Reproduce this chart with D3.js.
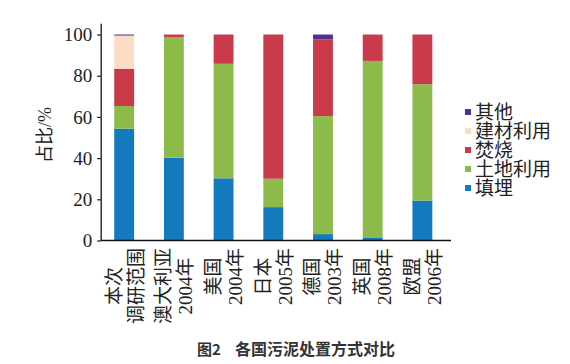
<!DOCTYPE html>
<html><head><meta charset="utf-8">
<script src="https://cdn.jsdelivr.net/npm/d3@7"></script>
<style>
html,body{margin:0;padding:0;background:#fff;}
svg{display:block;}
</style></head>
<body>
<svg id="chart" width="570" height="364"></svg>
<script>
const categories = ["本次|调研范围","澳大利亚|2004年","美国|2004年","日本|2005年","德国|2003年","英国|2008年","欧盟|2006年"];
const seriesNames = ["填埋","土地利用","焚烧","建材利用","其他"];
const landfill   = [54.3, 40.2, 30.2, 16.2, 3.1, 1.5, 19.4];
const landUse    = [11.0, 58.6, 55.6, 13.8, 57.3, 85.7, 56.5];
const incinerate = [18.0, 1.2, 14.2, 70.0, 37.3, 12.8, 24.1];
const building   = [16.2, 0, 0, 0, 0, 0, 0];
const other      = [0.5, 0, 0, 0, 2.3, 0, 0];
const yTicks = [0, 20, 40, 60, 80, 100];
const yTitle = "占比/%";
const caption1 = "图2";
const caption2 = "各国污泥处置方式对比";

const colors = {"填埋":"#1479bd","土地利用":"#8cbb4b","焚烧":"#c93a4a","建材利用":"#fcdcc7","其他":"#4e2f95"};
const seriesValues = [landfill, landUse, incinerate, building, other];

const rows = categories.map((c, i) => {
  const r = {cat: c};
  seriesNames.forEach((s, k) => r[s] = seriesValues[k][i]);
  return r;
});
const stack = d3.stack().keys(seriesNames)(rows);

const svg = d3.select("#chart");
const serif = "'Liberation Serif','Noto Sans CJK SC',serif";

const x = d3.scaleBand().domain(categories).range([100.7, 451])
  .paddingInner(0.6).paddingOuter(0.324).align(0.42);
const y = d3.scaleLinear().domain([0, 105.5]).range([240.5, 23.2]);

// bars
svg.append("g").selectAll("g").data(stack).join("g")
  .attr("fill", d => colors[d.key])
  .selectAll("rect").data(d => d).join("rect")
  .attr("x", d => x(d.data.cat))
  .attr("width", x.bandwidth())
  .attr("y", d => y(d[1]))
  .attr("height", d => Math.max(0, y(d[0]) - y(d[1])));

// y axis
const yAxis = svg.append("g").attr("transform", "translate(100.7,0)")
  .call(d3.axisLeft(y).tickValues(yTicks).tickSize(3.5).tickSizeOuter(0).tickPadding(5));
yAxis.select(".domain").attr("stroke", "#111").attr("stroke-width", 1.3);
yAxis.selectAll(".tick line").attr("stroke", "#111").attr("stroke-width", 1.2);
yAxis.selectAll(".tick text").attr("font-family", serif).attr("font-size", 19).attr("fill", "#222");

// x axis line
svg.append("line").attr("x1", 100.7).attr("x2", 451).attr("y1", y(0)).attr("y2", y(0))
  .attr("stroke", "#111").attr("stroke-width", 1.3);

// x labels (vertical, two columns)
const xl = svg.append("g");
categories.forEach(c => {
  const lines = c.split("|");
  const cx = x(c) + x.bandwidth() / 2;
  const offs = [-10, 12];
  const texts = lines.map((t, i) => xl.append("text")
    .attr("font-family", serif).attr("font-size", 19).attr("fill", "#222")
    .attr("text-anchor", "middle").attr("dominant-baseline", "central")
    .text(t));
  const maxLen = d3.max(texts, t => t.node().getComputedTextLength());
  const cy = 248 + maxLen / 2;
  texts.forEach((t, i) => t.attr("transform", `translate(${cx + offs[i]},${cy}) rotate(-90)`));
});

// y title
svg.append("text").attr("font-family", serif).attr("font-size", 18).attr("fill", "#222")
  .attr("text-anchor", "middle").attr("dominant-baseline", "central")
  .attr("transform", "translate(45,135) rotate(-90)").text(yTitle);

// legend
const legendOrder = ["其他","建材利用","焚烧","土地利用","填埋"];
const lg = svg.append("g");
legendOrder.forEach((s, i) => {
  const ly = 112 + i * 19;
  lg.append("rect").attr("x", 465).attr("y", ly - 3).attr("width", 6).attr("height", 6).attr("fill", colors[s]);
  lg.append("text").attr("x", 475).attr("y", ly).attr("dominant-baseline", "central")
    .attr("font-family", serif).attr("font-size", 19).attr("fill", "#222").text(s);
});

// caption
svg.append("text").attr("x", 197).attr("y", 355).attr("font-family", "'Noto Sans CJK SC',sans-serif")
  .attr("font-weight", "bold").attr("font-size", 15).attr("fill", "#333").text(caption1);
svg.append("text").attr("x", 235).attr("y", 355).attr("font-family", "'Noto Sans CJK SC',sans-serif")
  .attr("font-weight", "bold").attr("font-size", 16).attr("fill", "#333").text(caption2);
</script>
</body></html>
